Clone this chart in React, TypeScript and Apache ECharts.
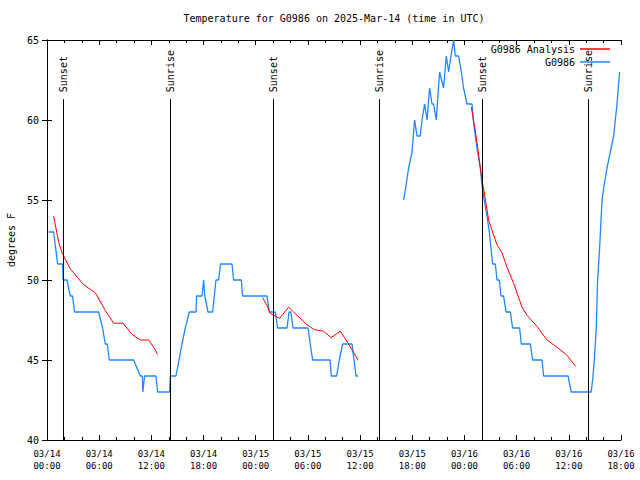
import React, { useEffect, useRef } from 'react';
import * as echarts from 'echarts';

// Hours since 2025-03-14 00:00 UTC
const TITLE = 'Temperature for G0986 on 2025-Mar-14 (time in UTC)';
const Y_NAME = 'degrees F';
const X_START_DAY = 14;

// Observed temperature (G0986); null = gap in data
const obsHours = [
  0.18, 0.76, 1.22, 1.79, 1.85, 2.30, 2.68, 2.94, 3.17, 5.93, 6.39, 6.70, 6.93, 7.16, 9.96, 10.73, 10.96, 11.02, 11.22, 12.53, 12.72, 14.10, 14.18,
  14.83, 15.18, 15.52, 15.90, 16.36, 17.13, 17.20, 17.82, 18.01, 18.14, 18.51, 19.04, 19.24, 19.43, 19.73, 19.96, 21.27, 21.46, 22.34, 22.49,
  25.30, 25.56, 26.25, 26.51, 27.60, 27.83, 28.03, 28.29, 30.01, 30.27, 30.54, 32.54, 32.69, 33.30, 33.61, 33.99, 35.07, 35.30, 35.53, 35.76,
  38.0,
  41.00, 41.31, 41.58, 41.97, 42.12, 42.27, 42.55, 42.92, 43.12, 43.42, 43.70, 43.99, 44.27, 44.45, 44.76, 45.14, 45.60, 45.91, 46.18, 46.45,
  46.75, 46.95, 47.33, 47.64, 47.90, 48.29, 48.87, 49.02, 49.25, 49.51, 49.82, 50.01, 50.27, 50.59, 50.86, 51.05, 51.24, 51.55, 51.74, 52.01,
  52.20, 52.50, 52.78, 53.27, 53.54, 54.34, 54.54, 55.57, 55.84, 56.92, 57.10, 59.91, 60.28, 62.58, 62.78, 62.93, 63.16, 63.31, 63.54, 63.82,
  64.08, 64.39, 64.77, 65.15, 65.54, 65.84,
];
const obsTemps = [
  53, 53, 51, 51, 50, 50, 49, 49, 48, 48, 47, 46, 46, 45, 45, 44, 44, 43, 44, 44, 43, 43, 44,
  44, 45, 46, 47, 48, 48, 49, 49, 50, 49, 48, 48, 49, 50, 50, 51, 51, 50, 50, 49,
  49, 48, 48, 47, 47, 48, 48, 47, 47, 46, 45, 45, 44, 44, 45, 46, 46, 45, 44, 44,
  null,
  55, 56, 57, 58, 59, 60, 59, 59, 60, 61, 60, 62, 61, 61, 60, 63, 62, 64, 63, 64,
  65, 64, 64, 63, 62, 61, 61, 60, 59, 58, 57, 56, 55, 54, 53, 52, 51, 51, 50, 50,
  49, 49, 48, 48, 47, 47, 46, 46, 45, 45, 44, 44, 43, 43, 44, 45, 47, 50, 52, 55,
  56, 57, 58, 59, 61, 63,
];

// Analysis (G0986 Analysis); null = gap
const anaHours = [
  0.76, 1.33, 1.72, 2.68, 4.21, 5.55, 6.70, 7.66, 8.74, 9.77, 10.73, 11.68, 12.26, 12.72,
  18.0,
  24.79, 25.30, 25.68, 26.25, 26.74, 27.78, 28.35, 29.90, 30.73, 31.80, 32.66, 33.72, 34.68, 35.76,
  42.0,
  48.79, 49.25, 49.59, 50.02, 50.27, 50.78, 51.17, 51.74, 52.32, 52.89, 53.65, 54.62, 55.19, 56.34, 57.49, 58.64, 59.79, 60.78,
];
const anaTemps = [
  54.0, 52.4, 51.7, 50.7, 49.7, 49.2, 48.1, 47.3, 47.3, 46.6, 46.25, 46.25, 45.8, 45.35,
  null,
  48.9, 48.4, 47.9, 47.75, 47.6, 48.3, 48.0, 47.2, 46.9, 46.8, 46.4, 46.8, 46.0, 45.0,
  null,
  60.8, 59.3, 58.0, 56.2, 55.5, 53.75, 53.1, 52.2, 51.7, 50.8, 49.8, 48.3, 47.8, 47.1, 46.25, 45.8, 45.3, 44.6,
];

// Sunrise / sunset markers
const eventHours = [1.79, 14.10, 25.94, 38.2, 50.0, 62.16];
const eventLabels = ['Sunset', 'Sunrise', 'Sunset', 'Sunrise', 'Sunset', 'Sunrise'];
const EVENT_TOP = 61.3;

const FONT = '"DejaVu Sans Mono", "Liberation Mono", monospace';

const pad = (n: number) => (n < 10 ? '0' + n : '' + n);

export default function App() {
  const ref = useRef<HTMLDivElement>(null);
  useEffect(() => {
    if (!ref.current) return;
    const chart = echarts.init(ref.current, undefined, { renderer: 'svg' });
    const obsData = obsHours.map((h, i) => [h, obsTemps[i] == null ? null : obsTemps[i]]);
    const anaData = anaHours.map((h, i) => [h, anaTemps[i] == null ? null : anaTemps[i]]);
    const tickCommon = {
      axisLine: { show: true, lineStyle: { color: '#000', width: 1 } },
      axisTick: { show: true, inside: true, length: 5, lineStyle: { color: '#000' } },
      splitLine: { show: false },
    };
    const legendCommon = {
      right: 30,
      padding: 0,
      align: 'right',
      icon: 'rect',
      itemWidth: 30,
      itemHeight: 1.5,
      textStyle: { fontFamily: FONT, fontSize: 10, color: '#000' },
    };
    chart.setOption({
      animation: false,
      backgroundColor: '#fff',
      title: {
        text: TITLE,
        left: 334,
        textAlign: 'center',
        top: 13,
        padding: 0,
        textStyle: { fontFamily: FONT, fontSize: 10, fontWeight: 'normal', color: '#000' },
      },
      legend: [
        { ...legendCommon, data: ['G0986 Analysis'], top: 44 },
        { ...legendCommon, data: ['G0986'], top: 57 },
      ],
      grid: { left: 47, right: 19, top: 40, bottom: 40, containLabel: false, outerBoundsMode: 'none' },
      xAxis: [
        {
          type: 'value',
          min: 0,
          max: 66,
          interval: 6,
          position: 'bottom',
          ...tickCommon,
          minorTick: { show: true, splitNumber: 3, length: 3, lineStyle: { color: '#000' } },
          axisLabel: {
            fontFamily: FONT,
            fontSize: 9,
            color: '#000',
            lineHeight: 12,
            margin: 8,
            formatter: (v: number) => {
              const day = X_START_DAY + Math.floor(v / 24);
              const hh = Math.round(v % 24);
              return `03/${pad(day)}\n${pad(hh)}:00`;
            },
          },
        },
        {
          type: 'value',
          min: 0,
          max: 66,
          interval: 6,
          position: 'top',
          ...tickCommon,
          minorTick: { show: true, splitNumber: 3, length: 3, lineStyle: { color: '#000' } },
          axisLabel: { show: false },
        },
      ],
      yAxis: [
        {
          type: 'value',
          min: 40,
          max: 65,
          interval: 5,
          position: 'left',
          ...tickCommon,
          name: Y_NAME,
          nameLocation: 'middle',
          nameGap: 31,
          nameTextStyle: { fontFamily: FONT, fontSize: 10, color: '#000' },
          axisLabel: { fontFamily: FONT, fontSize: 10, color: '#000', margin: 8 },
        },
        {
          type: 'value',
          min: 40,
          max: 65,
          interval: 5,
          position: 'right',
          ...tickCommon,
          axisLabel: { show: false },
        },
      ],
      series: [
        {
          name: 'G0986 Analysis',
          type: 'line',
          data: anaData,
          showSymbol: false,
          symbol: 'none',
          connectNulls: false,
          lineStyle: { color: '#ff0000', width: 1 },
          itemStyle: { color: '#ff0000' },
          z: 4,
        },
        {
          name: 'G0986',
          type: 'line',
          data: obsData,
          showSymbol: false,
          symbol: 'none',
          connectNulls: false,
          lineStyle: { color: '#1e88ff', width: 1.3 },
          itemStyle: { color: '#1e88ff' },
          z: 3,
        },
        {
          name: 'events',
          type: 'custom',
          data: eventHours.map((h) => [h, EVENT_TOP]),
          z: 5,
          clip: false,
          renderItem: (params: any, api: any) => {
            const t = api.value(0);
            const top = api.coord([t, EVENT_TOP]);
            const bot = api.coord([t, 40]);
            const x = Math.round(top[0]) + 0.5;
            return {
              type: 'group',
              children: [
                {
                  type: 'line',
                  shape: { x1: x, y1: top[1], x2: x, y2: bot[1] },
                  style: { stroke: '#000', lineWidth: 1 },
                },
                {
                  type: 'text',
                  x: x,
                  y: top[1] - 7,
                  rotation: Math.PI / 2,
                  style: {
                    text: eventLabels[params.dataIndex],
                    align: 'left',
                    verticalAlign: 'middle',
                    fontFamily: FONT,
                    fontSize: 10,
                    fill: '#000',
                  },
                },
              ],
            };
          },
        },
      ],
    });
    return () => chart.dispose();
  }, []);
  return <div ref={ref} style={{ width: 640, height: 480, position: 'absolute', left: 0, top: 0 }} />;
}
